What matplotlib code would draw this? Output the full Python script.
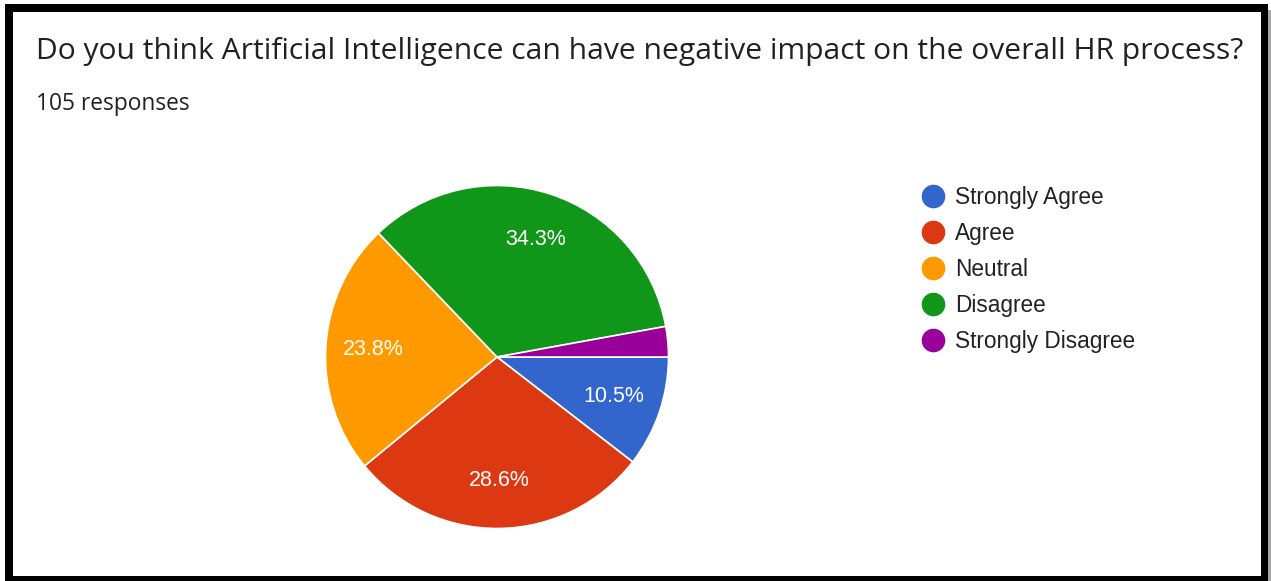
import matplotlib
matplotlib.use("Agg")
import matplotlib.pyplot as plt
from matplotlib.patches import Rectangle
from matplotlib.lines import Line2D

title = "Do you think Artificial Intelligence can have negative impact on the overall HR process?"
subtitle = "105 responses"
categories = ["Strongly Agree", "Agree", "Neutral", "Disagree", "Strongly Disagree"]
counts = [11, 30, 25, 36, 3]
colors = ["#3366cc", "#dc3912", "#ff9900", "#109618", "#990099"]

W, H = 1271, 581
fig = plt.figure(figsize=(W / 100, H / 100), dpi=100)
fig.patch.set_facecolor("white")

def px(x, y):
    return (x / W, 1 - y / H)

# frame
fig.patches.append(Rectangle(px(1268, 581), 3 / W, (581 - 10) / H, transform=fig.transFigure,
                             facecolor="#a8a8a8", edgecolor="none", zorder=-3))
fig.patches.append(Rectangle(px(5, 590), (1268 - 5) / W, (590 - 4) / H, transform=fig.transFigure,
                             facecolor="black", edgecolor="none", zorder=-2))
fig.patches.append(Rectangle(px(13, 576), (1261 - 13) / W, (576 - 12) / H, transform=fig.transFigure,
                             facecolor="white", edgecolor="none", zorder=-1))

fig.text(*px(36, 59), title, fontsize=21.6, family="Open Sans", color="#202124", va="baseline", ha="left")
fig.text(*px(36, 110), subtitle, fontsize=16.4, family="Open Sans", color="#202124", va="baseline", ha="left")

cx, cy, r = 497, 357, 171.5
ax = fig.add_axes([(cx - r) / W, (H - cy - r) / H, 2 * r / W, 2 * r / H])

def fmt(p):
    return f"{p:.1f}%" if p > 5 else ""

wedges, texts, autotexts = ax.pie(counts, colors=colors, startangle=0, counterclock=False,
                                  radius=1, autopct=fmt, pctdistance=0.72,
                                  wedgeprops=dict(edgecolor="white", linewidth=1.2),
                                  textprops=dict(color="white", fontsize=15.5, family="Liberation Sans"))
ax.set_xlim(-1, 1)
ax.set_ylim(-1, 1)
ax.set_aspect("equal")
ax.axis("off")

handles = [Line2D([0], [0], marker="o", linestyle="none", markersize=16,
                  markerfacecolor=c, markeredgecolor=c) for c in colors]
leg = fig.legend(handles, categories, loc="upper left", bbox_to_anchor=px(922, 186),
                 frameon=False, prop=dict(family="Liberation Sans", size=16.3),
                 handletextpad=0.45, labelspacing=0.57, handlelength=1.0, borderaxespad=0,
                 borderpad=0)
for t in leg.get_texts():
    t.set_color("#222222")

fig.savefig("out.png", dpi=100, facecolor="white")
